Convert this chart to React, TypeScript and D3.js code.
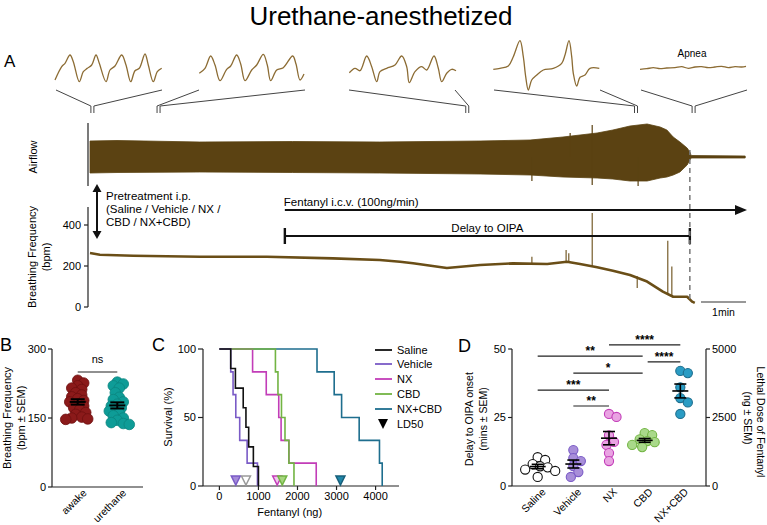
import React from "react";
import * as d3 from "d3";

const FONT = "Liberation Sans, Arial, Helvetica, sans-serif";

// ================= DATA =================
const title = "Urethane-anesthetized";

// Panel A – expanded airflow waveforms [time (a.u.), amplitude (a.u.)]
const inset1: [number, number][] = [
  [0, -10], [6.7, 3.3], [10, 6.7], [15, 15], [18.3, 8.3], [24.3, -11.7], [28.3, -1.7], [32.3, 1.7],
  [36.7, 5], [41, 15], [44.3, 6.7], [51, -11.7], [55, 0], [60, 4], [66.7, 15], [71, 5], [75.7, -11.7],
  [80, -0.7], [84.3, 1.7], [90, 16], [93.3, 5], [98.3, -11.7], [102.3, -1.7], [106.7, 1.7],
];
const inset2: [number, number][] = [
  [1.3, -3.3], [7, 1.7], [12.7, 14], [17, 5], [22, -10.7], [28.7, 0.7], [32.7, 4], [38.7, 15], [42.7, 6],
  [47, -10.7], [53.7, 0], [58.7, 5], [65.3, 15.7], [69.3, 5], [72.7, -10.7], [78.7, 0], [85.3, 2.3],
  [94.7, 14], [98, 6], [102, -10], [106, -4],
];
const inset3: [number, number][] = [
  [1.3, -2.7], [7, 1.7], [12, -0.7], [18.7, 14], [23.7, 3.3], [28.7, -11.7], [32, -1.7], [38.7, 1.7],
  [47, 5], [53.7, 14], [58.7, 3.3], [61.3, -12.7], [67, -1.7], [73.7, 3.3], [78.7, 0], [86, 14],
  [90.3, 1.7], [93.7, -11.7], [98.7, -3.3], [103.7, 0.7], [108, -0.7],
];
const inset4: [number, number][] = [
  [0.3, 0.7], [7, 1.7], [15.3, 4], [20.3, 13.3], [27, 29.3], [30.3, 13.3], [32.7, -6.7], [35.3, -20],
  [38.7, -10], [43.7, -5], [50.3, 0], [60.3, 1.7], [68.7, 6.7], [72, 15], [76, 29.3], [78.7, 13.3],
  [80.3, -3.3], [83.7, -16], [87, -7.3], [92, -5], [97, 1.7], [106.3, 1.7],
];
const inset5: [number, number][] = [
  [0, 0.7], [6.7, 1.3], [13.3, 2.3], [20, 1.3], [26.7, 2], [35, 2.3], [41.7, 3.3], [48.3, 1.7], [55, 3],
  [61.7, 3.3], [68.3, 2.3], [75, 3], [81.7, 3.7], [88.3, 2.3], [95, 3.3], [101.7, 3], [106, 3.7],
];
const insetTraceTimes = [0.02, 1.49, 8.35, 12.1, 13.38]; // minutes

// Airflow envelope [minutes, upper, lower] (a.u.)
const airflowEnvelope: [number, number, number][] = [
  [0, 16, -16], [0.6, 16.5, -15.5], [2.44, 15, -15], [4.5, 15.5, -15.5], [6.44, 15, -16], [8.67, 16, -17],
  [9.78, 17, -18], [10.51, 20, -20], [11.27, 24, -21], [11.62, 27, -22], [12.0, 31, -24], [12.38, 33, -24],
  [12.67, 30, -21], [12.82, 27, -20], [12.96, 20, -18], [13.11, 15, -15], [13.27, 9, -8], [13.33, 5, -3],
  [13.36, 1.5, -1], [14.56, 1, -1],
];
// Airflow spikes [minutes, upper, lower]
const airflowSpikes: [number, number, number][] = [
  [9.82, 0, -24], [10.67, 24, 0], [11.16, 32, -28], [12.18, 0, -29],
];

// Breathing frequency [minutes, bpm]
const freqTrace: [number, number][] = [
  [0, 263], [0.22, 255], [0.96, 250], [2.44, 245], [3.93, 245], [5.4, 237], [6.44, 229], [6.89, 221],
  [7.18, 213], [7.93, 190], [8.67, 205], [9.4, 213], [10.16, 210], [10.6, 221], [10.89, 210], [11.27, 194],
  [11.62, 177], [12.0, 156], [12.38, 124], [12.73, 75], [12.96, 50], [13.27, 50], [13.38, 26], [13.44, 20],
];
// Frequency spikes [minutes, from bpm, to bpm]
const freqSpikes: [number, number, number][] = [
  [9.82, 210, 245], [10.58, 220, 278], [10.64, 220, 262], [11.16, 200, 458], [12.16, 150, 93],
  [12.84, 60, 323], [12.93, 50, 197],
];
const freqTicks = [0, 200, 400];
const fentanylStart = 4.33;
const oipaTime = 13.33;
const traceEnd = 14.6;

// Panel B
const bCategories = ["awake", "urethane"];
const awakeBpm = [232, 226, 220, 215, 212, 205, 200, 196, 192, 188, 185, 180, 176, 172, 168, 162, 158, 152, 150, 148, 147];
const urethaneBpm = [228, 224, 220, 215, 205, 195, 190, 185, 180, 176, 172, 168, 165, 160, 155, 150, 145, 140, 138, 136];
const bTicks = [0, 150, 300];

// Panel C – fentanyl dose at death (ng) per animal
const groups = ["Saline", "Vehicle", "NX", "CBD", "NX+CBD"];
const salineDeaths = [290, 410, 610, 680, 750, 870, 1000];
const vehicleDeaths = [290, 350, 420, 520, 710, 975];
const nxDeaths = [850, 1200, 1520, 1580, 1780, 2480];
const cbdDeaths = [1435, 1500, 1590, 1680, 1780, 1910];
const nxcbdDeaths = [2500, 2940, 3130, 3580, 4100, 4170];
const ld50 = [680, 420, 1480, 1610, 3100];
const cXTicks = [0, 1000, 2000, 3000, 4000];
const cYTicks = [0, 50, 100];

// Panel D – delay to OIPA onset (min)
const dSaline = [10.5, 9.5, 8, 7.2, 6.8, 6, 5.5, 3.3];
const dVehicle = [13.1, 10.2, 9.1, 7.3, 5.1, 3.3];
const dNX = [26.3, 25.2, 18.5, 16.1, 15, 12, 9.1];
const dCBD = [19.3, 18.6, 17, 16.4, 16, 15, 14.2];
const dNXCBD = [42, 41.2, 36, 32.1, 30.5, 26.3];
const dLeftTicks = [0, 25, 50];
const dRightTicks = [0, 2500, 5000];
const dComparisons: [string, string, string][] = [
  ["NX", "NX+CBD", "****"], ["Saline", "CBD", "**"], ["CBD", "NX+CBD", "****"],
  ["Vehicle", "CBD", "*"], ["Saline", "NX", "***"], ["Vehicle", "NX", "**"],
];
const dComparisonLevels = [51.5, 47.4, 45.3, 41.2, 35, 29.2];

// ================= STYLES =================
const BROWN = "#5b4212";
const BROWN2 = "#6a4e17";
const INSET = "#8c6c34";
const groupLine = ["#111111", "#7a5bc6", "#c23db8", "#72b443", "#1e6e8e"];
const groupFill = ["#ffffff", "#a88ed9", "#e9a3e2", "#a9d98a", "#2a9cc4"];
const triFill = ["#ffffff", "#a58bd9", "#f0c8ec", "#a6d57e", "#1f86a8"];
const triStroke = ["#9a9a9a", "#7a5bc6", "#c23db8", "#72b443", "#175f7a"];

function swarm(values: number[], y: (v: number) => number, cx: number, minDist: number, step: number) {
  const pts = values.map((v) => ({ v, y: y(v) })).sort((a, b) => a.y - b.y);
  const placed: { x: number; y: number; v: number }[] = [];
  for (const p of pts) {
    for (let k = 0; k < 80; k++) {
      const off = k === 0 ? 0 : (k % 2 ? 1 : -1) * Math.ceil(k / 2) * step;
      const x = cx + off;
      if (placed.every((q) => Math.hypot(q.x - x, q.y - p.y) >= minDist)) {
        placed.push({ x, y: p.y, v: p.v });
        break;
      }
    }
  }
  return placed;
}

function sem(a: number[]) {
  return (d3.deviation(a) || 0) / Math.sqrt(a.length);
}

// ================= PANEL A =================
function PanelA() {
  const xT = d3.scaleLinear().domain([0, traceEnd]).range([90, 747]);
  const yAir = d3.scaleLinear().domain([-40, 40]).range([197, 117]);
  const yF = d3.scaleLinear().domain([0, 500]).range([307, 204.5]);
  const insetY = d3.scaleLinear().domain([-20, 30]).range([90, 40]);
  const insetX0 = [55, 198, 348, 493, 640];
  const insetW = 107;
  const insets = [inset1, inset2, inset3, inset4, inset5];

  const area = d3
    .area<[number, number, number]>()
    .x((d) => xT(d[0]))
    .y0((d) => yAir(d[2]))
    .y1((d) => yAir(d[1]));
  const fLine = d3
    .line<[number, number]>()
    .x((d) => xT(d[0]))
    .y((d) => yF(d[1]));

  return (
    <g>
      <text x={4} y={67} fontSize={17}>A</text>
      {insets.map((pts, i) => {
        const xs = d3.scaleLinear().domain([0, insetW]).range([insetX0[i], insetX0[i] + insetW]);
        const line = d3
          .line<[number, number]>()
          .x((d) => xs(d[0]))
          .y((d) => insetY(d[1]))
          .curve(d3.curveCatmullRom.alpha(0.5));
        const tx = xT(insetTraceTimes[i]);
        return (
          <g key={i}>
            <path d={line(pts) || ""} fill="none" stroke={INSET} strokeWidth={1.3} />
            <line x1={insetX0[i] + 1} y1={90} x2={tx} y2={106} stroke="#444" strokeWidth={1} />
            <line x1={insetX0[i] + insetW} y1={90} x2={tx + 3} y2={106} stroke="#444" strokeWidth={1} />
            <line x1={tx} y1={106} x2={tx} y2={113} stroke="#444" strokeWidth={1} />
            <line x1={tx + 3} y1={106} x2={tx + 3} y2={113} stroke="#444" strokeWidth={1} />
          </g>
        );
      })}
      <text x={692} y={57} fontSize={10} textAnchor="middle">Apnea</text>

      {/* airflow */}
      <line x1={88} y1={123} x2={88} y2={186} stroke="#222" strokeWidth={1.2} />
      <path d={area(airflowEnvelope) || ""} fill={BROWN} stroke={BROWN} strokeWidth={0.8} />
      {airflowSpikes.map((s, i) => (
        <line key={i} x1={xT(s[0])} x2={xT(s[0])} y1={yAir(s[1])} y2={yAir(s[2])} stroke={BROWN} strokeWidth={1.2} />
      ))}
      <text transform="translate(37,157) rotate(-90)" fontSize={11} textAnchor="middle">Airflow</text>

      {/* frequency axis */}
      <line x1={88} y1={yF(0)} x2={88} y2={yF(488)} stroke="#222" strokeWidth={1.2} />
      {freqTicks.map((t) => (
        <g key={t}>
          <line x1={84} x2={88} y1={yF(t)} y2={yF(t)} stroke="#222" strokeWidth={1.2} />
          <text x={81} y={yF(t)} dy="0.35em" fontSize={11} textAnchor="end">{t}</text>
        </g>
      ))}
      <text transform="translate(36,257) rotate(-90)" fontSize={11} textAnchor="middle">Breathing Frequency</text>
      <text transform="translate(50,257) rotate(-90)" fontSize={11} textAnchor="middle">(bpm)</text>
      <path d={fLine(freqTrace) || ""} fill="none" stroke={BROWN2} strokeWidth={2.6} strokeLinejoin="round" />
      {freqSpikes.map((s, i) => (
        <line key={i} x1={xT(s[0])} x2={xT(s[0])} y1={yF(s[1])} y2={yF(s[2])} stroke={BROWN2} strokeWidth={1.1} />
      ))}

      {/* pretreatment arrow */}
      <line x1={97} x2={97} y1={190} y2={233} stroke="#111" strokeWidth={2} />
      <polygon points="97,184 92.5,192 101.5,192" fill="#111" />
      <polygon points="97,239 92.5,231 101.5,231" fill="#111" />
      <text x={106} y={200} fontSize={11.5}>Pretreatment i.p.</text>
      <text x={106} y={213} fontSize={11.5}>(Saline / Vehicle / NX /</text>
      <text x={106} y={226} fontSize={11.5}>CBD / NX+CBD)</text>

      {/* fentanyl arrow */}
      <text x={xT(fentanylStart) - 1} y={206} fontSize={11.5}>Fentanyl i.c.v. (100ng/min)</text>
      <line x1={xT(fentanylStart)} x2={737} y1={210} y2={210} stroke="#111" strokeWidth={2.2} />
      <polygon points="747,210 735,205 735,215" fill="#111" />

      {/* delay to OIPA */}
      <line x1={xT(fentanylStart)} x2={xT(oipaTime)} y1={236} y2={236} stroke="#111" strokeWidth={2.2} />
      <line x1={xT(fentanylStart)} x2={xT(fentanylStart)} y1={228} y2={244} stroke="#111" strokeWidth={2.4} />
      <line x1={xT(oipaTime)} x2={xT(oipaTime)} y1={228} y2={244} stroke="#111" strokeWidth={2.4} />
      <text x={(xT(fentanylStart) + xT(oipaTime)) / 2} y={232} fontSize={11.5} textAnchor="middle">Delay to OIPA</text>

      {/* OIPA dashed line */}
      <line x1={xT(oipaTime)} x2={xT(oipaTime)} y1={150} y2={303} stroke="#777" strokeWidth={1.5} strokeDasharray="5,4" />

      {/* scale bar */}
      <line x1={701} x2={701 + xT(1) - xT(0)} y1={302} y2={302} stroke="#333" strokeWidth={1.2} />
      <text x={701 + (xT(1) - xT(0)) / 2} y={316} fontSize={10.5} textAnchor="middle">1min</text>
    </g>
  );
}

// ================= PANEL B =================
function PanelB() {
  const yB = d3.scaleLinear().domain([0, 300]).range([487, 349]);
  const xB = d3.scalePoint<string>().domain(bCategories).range([52, 143]).padding(0.65);
  const sets = [awakeBpm, urethaneBpm];
  const fills = ["#8b1a1a", "#0e9c97"];
  const strokes = ["#6e1010", "#0b8580"];
  return (
    <g>
      <text x={0} y={351} fontSize={18}>B</text>
      <line x1={52} x2={52} y1={yB(0)} y2={yB(300)} stroke="#222" strokeWidth={1.2} />
      <line x1={52} x2={143} y1={yB(0)} y2={yB(0)} stroke="#222" strokeWidth={1.2} />
      {bTicks.map((t) => (
        <g key={t}>
          <line x1={48} x2={52} y1={yB(t)} y2={yB(t)} stroke="#222" strokeWidth={1.2} />
          <text x={46} y={yB(t)} dy="0.35em" fontSize={11} textAnchor="end">{t}</text>
        </g>
      ))}
      <text transform="translate(11,418) rotate(-90)" fontSize={11} textAnchor="middle">Breathing Frequency</text>
      <text transform="translate(25,418) rotate(-90)" fontSize={11} textAnchor="middle">(bpm ± SEM)</text>
      {bCategories.map((c, i) => {
        const cx = xB(c) as number;
        const pts = swarm(sets[i], yB, cx, 5.2, 2);
        const m = d3.mean(sets[i]) as number;
        const s = sem(sets[i]);
        return (
          <g key={c}>
            {pts.map((p, j) => (
              <circle key={j} cx={p.x} cy={p.y} r={5.3} fill={fills[i]} stroke={strokes[i]} strokeWidth={0.8} />
            ))}
            <line x1={cx - 8} x2={cx + 8} y1={yB(m)} y2={yB(m)} stroke="#000" strokeWidth={2} />
            <line x1={cx - 7} x2={cx + 7} y1={yB(m + s)} y2={yB(m + s)} stroke="#000" strokeWidth={2} />
            <line x1={cx - 7} x2={cx + 7} y1={yB(m - s)} y2={yB(m - s)} stroke="#000" strokeWidth={2} />
            <line x1={cx} x2={cx} y1={yB(m + s)} y2={yB(m - s)} stroke="#000" strokeWidth={2} />
            <text transform={`translate(${cx + 7},${yB(0) + 4}) rotate(-45)`} fontSize={10.5} textAnchor="end" dy="0.35em">{c}</text>
          </g>
        );
      })}
      <line x1={xB("awake")} x2={xB("urethane")} y1={yB(250)} y2={yB(250)} stroke="#222" strokeWidth={1.2} />
      <text x={((xB("awake") as number) + (xB("urethane") as number)) / 2} y={yB(250) - 9} fontSize={11} textAnchor="middle">ns</text>
    </g>
  );
}

// ================= PANEL C =================
function PanelC() {
  const xC = d3.scaleLinear().domain([-420, 4600]).range([203, 399]);
  const yC = d3.scaleLinear().domain([0, 100]).range([486, 349]);
  const deaths = [salineDeaths, vehicleDeaths, nxDeaths, cbdDeaths, nxcbdDeaths];
  const line = d3
    .line<[number, number]>()
    .x((d) => xC(d[0]))
    .y((d) => yC(d[1]))
    .curve(d3.curveStepAfter);
  const order = [4, 2, 3, 1, 0];
  const legendY = [350, 364, 379, 394, 409];
  return (
    <g>
      <text x={152} y={351} fontSize={18}>C</text>
      <line x1={203} x2={203} y1={yC(0)} y2={yC(100)} stroke="#222" strokeWidth={1.2} />
      <line x1={203} x2={399} y1={yC(0)} y2={yC(0)} stroke="#222" strokeWidth={1.2} />
      {cYTicks.map((t) => (
        <g key={t}>
          <line x1={198} x2={203} y1={yC(t)} y2={yC(t)} stroke="#222" strokeWidth={1.2} />
          <text x={196} y={yC(t)} dy="0.35em" fontSize={11} textAnchor="end">{t}</text>
        </g>
      ))}
      {cXTicks.map((t) => (
        <g key={t}>
          <line x1={xC(t)} x2={xC(t)} y1={yC(0)} y2={yC(0) + 4} stroke="#222" strokeWidth={1.2} />
          <text x={xC(t)} y={yC(0) + 14} fontSize={11} textAnchor="middle">{t}</text>
        </g>
      ))}
      <text x={xC(1800)} y={516} fontSize={11} textAnchor="middle">Fentanyl (ng)</text>
      <text transform="translate(172,417) rotate(-90)" fontSize={11} textAnchor="middle">Survival (%)</text>
      {order.map((gi) => {
        const d = deaths[gi];
        const pts: [number, number][] = [[0, 100], ...d.map((v, k) => [v, 100 * (1 - (k + 1) / d.length)] as [number, number])];
        return <path key={gi} d={line(pts) || ""} fill="none" stroke={groupLine[gi]} strokeWidth={1.6} />;
      })}
      {[1, 0, 2, 3, 4].map((gi) => {
        const x = xC(ld50[gi]);
        const y = yC(0) - 5;
        return (
          <polygon key={gi} points={`${x - 4.5},${y - 5} ${x + 4.5},${y - 5} ${x},${y + 4}`} fill={triFill[gi]} stroke={triStroke[gi]} strokeWidth={1.5} />
        );
      })}
      {groups.map((g, i) => (
        <g key={g}>
          <line x1={375} x2={392} y1={legendY[i]} y2={legendY[i]} stroke={groupLine[i]} strokeWidth={1.8} />
          <text x={397} y={legendY[i]} dy="0.35em" fontSize={11}>{g}</text>
        </g>
      ))}
      <polygon points="378,419 388,419 383,429" fill="#000" />
      <text x={397} y={424} dy="0.35em" fontSize={11}>LD50</text>
    </g>
  );
}

// ================= PANEL D =================
function PanelD() {
  const yD = d3.scaleLinear().domain([0, 50]).range([486, 349]);
  const yR = d3.scaleLinear().domain([0, 5000]).range([486, 349]);
  const xD = d3.scalePoint<string>().domain(groups).range([512, 706]).padding(0.72);
  const sets = [dSaline, dVehicle, dNX, dCBD, dNXCBD];
  return (
    <g>
      <text x={458} y={352} fontSize={18}>D</text>
      <line x1={512} x2={512} y1={yD(0)} y2={yD(50)} stroke="#222" strokeWidth={1.2} />
      <line x1={706} x2={706} y1={yD(0)} y2={yD(50)} stroke="#222" strokeWidth={1.2} />
      <line x1={512} x2={706} y1={yD(0)} y2={yD(0)} stroke="#222" strokeWidth={1.2} />
      {dLeftTicks.map((t) => (
        <g key={t}>
          <line x1={508} x2={512} y1={yD(t)} y2={yD(t)} stroke="#222" strokeWidth={1.2} />
          <text x={506} y={yD(t)} dy="0.35em" fontSize={11} textAnchor="end">{t}</text>
        </g>
      ))}
      {dRightTicks.map((t) => (
        <g key={t}>
          <line x1={706} x2={710} y1={yR(t)} y2={yR(t)} stroke="#222" strokeWidth={1.2} />
          <text x={712} y={yR(t)} dy="0.35em" fontSize={11}>{t}</text>
        </g>
      ))}
      <text transform="translate(473,419) rotate(-90)" fontSize={10.5} textAnchor="middle">Delay to OIPA onset</text>
      <text transform="translate(487,419) rotate(-90)" fontSize={10.5} textAnchor="middle">(mins ± SEM)</text>
      <text transform="translate(757,422) rotate(90)" fontSize={10.5} textAnchor="middle">Lethal Dose of Fentanyl</text>
      <text transform="translate(744,418) rotate(90)" fontSize={10.5} textAnchor="middle">(ng ± SEM)</text>
      {dComparisons.map((c, i) => {
        const x1 = (xD(c[0]) as number) + (c[0] === "CBD" ? 3 : 0);
        const x2 = (xD(c[1]) as number) - (c[1] === "CBD" ? 2 : 0);
        const y = yD(dComparisonLevels[i]);
        return (
          <g key={i}>
            <line x1={x1} x2={x2} y1={y} y2={y} stroke="#222" strokeWidth={1.1} />
            <text x={(x1 + x2) / 2} y={y - 1} fontSize={12} fontWeight="bold" textAnchor="middle">{c[2]}</text>
          </g>
        );
      })}
      {groups.map((g, i) => {
        const cx = xD(g) as number;
        const pts = swarm(sets[i], yD, cx, 7.5, 2.5);
        const m = d3.mean(sets[i]) as number;
        const s = sem(sets[i]);
        return (
          <g key={g}>
            {pts.map((p, j) => (
              <circle key={j} cx={p.x} cy={p.y} r={4.6} fill={groupFill[i]} stroke={groupLine[i]} strokeWidth={1.1} />
            ))}
            <line x1={cx - 8} x2={cx + 8} y1={yD(m)} y2={yD(m)} stroke="#000" strokeWidth={1.6} />
            <line x1={cx - 6} x2={cx + 6} y1={yD(m + s)} y2={yD(m + s)} stroke="#000" strokeWidth={1.6} />
            <line x1={cx - 6} x2={cx + 6} y1={yD(m - s)} y2={yD(m - s)} stroke="#000" strokeWidth={1.6} />
            <line x1={cx} x2={cx} y1={yD(m + s)} y2={yD(m - s)} stroke="#000" strokeWidth={1.6} />
            <text transform={`translate(${cx + 6},${yD(0) + 4}) rotate(-45)`} fontSize={10.5} textAnchor="end" dy="0.35em">{g}</text>
          </g>
        );
      })}
    </g>
  );
}

export default function App() {
  return (
    <svg
      width={767}
      height={525}
      viewBox="0 0 767 525"
      style={{ position: "absolute", left: 0, top: 0, background: "#fff" }}
      fontFamily={FONT}
    >
      <rect width={767} height={525} fill="#fff" />
      <text x={381} y={25} fontSize={26} textAnchor="middle">{title}</text>
      <PanelA />
      <PanelB />
      <PanelC />
      <PanelD />
    </svg>
  );
}
